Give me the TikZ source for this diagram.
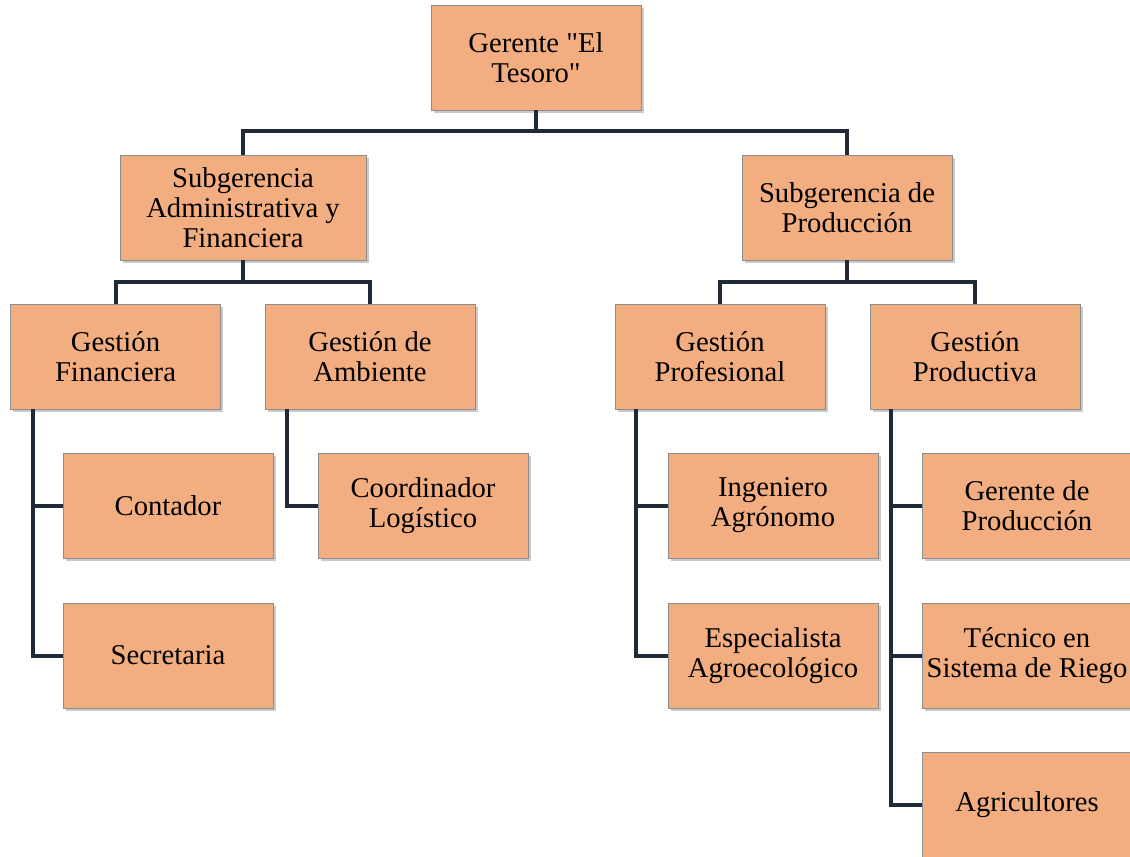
\documentclass[tikz,border=0pt]{standalone}
\usepackage{fontspec}
\setmainfont{Liberation Serif}
\usetikzlibrary{shadows}
\definecolor{boxfill}{HTML}{F2AE80}
\definecolor{boxline}{HTML}{8C8C8C}
\definecolor{linkcol}{HTML}{1F2A36}
\tikzset{
  orgbox/.style={draw=boxline, line width=0.6pt, fill=boxfill, minimum width=157.5pt, minimum height=78.75pt,
    align=center, font=\fontsize{21.5pt}{22.5pt}\selectfont, inner sep=1pt,
    drop shadow={shadow xshift=2pt, shadow yshift=-2pt, opacity=0.35, fill=black!60}},
  link/.style={draw=linkcol, line width=3pt}
}
\begin{document}
\begin{tikzpicture}[x=0.75pt,y=-0.75pt]
\useasboundingbox (0,0) rectangle (1130,856);
\clip (0,0) rectangle (1130,856);
\node[orgbox] (top) at (536,57.5) {Gerente \textquotedbl El\\Tesoro\textquotedbl};
\node[orgbox, minimum width=184.5pt] (adm) at (243,207.5) {Subgerencia\\Administrativa y\\Financiera};
\node[orgbox] (prod) at (847,207.5) {Subgerencia de\\Producción};
\node[orgbox] (gfin) at (115.5,356.5) {Gestión\\Financiera};
\node[orgbox] (gamb) at (370,356.5) {Gestión de\\Ambiente};
\node[orgbox] (gprof) at (720,356.5) {Gestión\\Profesional};
\node[orgbox] (gprod) at (975,356.5) {Gestión\\Productiva};
\node[orgbox] (cont) at (168,505.5) {Contador};
\node[orgbox] (secr) at (168,655.5) {Secretaria};
\node[orgbox] (coord) at (423,505.5) {Coordinador\\Logístico};
\node[orgbox] (ing) at (773,505.5) {Ingeniero\\Agrónomo};
\node[orgbox] (esp) at (773,655.5) {Especialista\\Agroecológico};
\node[orgbox] (gerp) at (1027,505.5) {Gerente de\\Producción};
\node[orgbox] (tec) at (1027,655.5) {Técnico en\\Sistema de Riego};
\node[orgbox] (agri) at (1027,804.5) {Agricultores};
% connectors
\coordinate (h1) at (536,131);
\draw[link] (top.south) -- (h1);
\draw[link] (adm.north) -- (adm.north |- h1) -- (prod.north |- h1) -- (prod.north);
\coordinate (h2) at (243,282);
\draw[link] (adm.south) -- (h2);
\draw[link] (gfin.north) -- (gfin.north |- h2) -- (gamb.north |- h2) -- (gamb.north);
\coordinate (h3) at (847,282);
\draw[link] (prod.south) -- (h3);
\draw[link] (gprof.north) -- (gprof.north |- h3) -- (gprod.north |- h3) -- (gprod.north);
\coordinate (v1) at (33,409);
\draw[link] (v1) -- (v1 |- secr.west) -- (secr.west);
\draw[link] (v1 |- cont.west) -- (cont.west);
\coordinate (v2) at (287,409);
\draw[link] (v2) -- (v2 |- coord.west) -- (coord.west);
\coordinate (v3) at (636,409);
\draw[link] (v3) -- (v3 |- esp.west) -- (esp.west);
\draw[link] (v3 |- ing.west) -- (ing.west);
\coordinate (v4) at (891,409);
\draw[link] (v4) -- (v4 |- agri.west) -- (agri.west);
\draw[link] (v4 |- gerp.west) -- (gerp.west);
\draw[link] (v4 |- tec.west) -- (tec.west);
\end{tikzpicture}
\end{document}
